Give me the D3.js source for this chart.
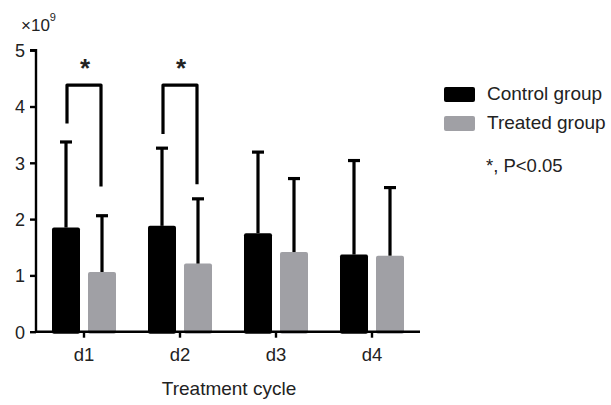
<!DOCTYPE html>
<html><head><meta charset="utf-8">
<script src="https://cdn.jsdelivr.net/npm/d3@7"></script>
<style>body{margin:0;background:#fff}svg{display:block}text{font-family:"Liberation Sans",Arial,sans-serif;fill:#222}</style>
</head><body><svg id="c" width="611" height="405"></svg>
<script>
const categories = ["d1","d2","d3","d4"];
const seriesNames = ["Control group","Treated group"];
const controlMean = [1.85,1.88,1.75,1.37];
const controlErr = [3.37,3.26,3.19,3.04];
const treatedMean = [1.06,1.21,1.415,1.35];
const treatedErr = [2.06,2.36,2.72,2.56];
const yTicks = [0,1,2,3,4,5];
// significance brackets: [category, top, left leg end, right leg end]
const sigCats = ["d1","d2"];
const sigTop = [4.38,4.38];
const sigLeft = [3.70,3.51];
const sigRight = [2.58,2.62];
const colors = ["#000000","#a0a0a5"];

const svg = d3.select("#c");
const x = d3.scaleBand().domain(categories).range([36,420]);
const y = d3.scaleLinear().domain([0,5]).range([331.7,50.2]);
const off = [-18,18], bw = 28;

const series = [
  {mean: controlMean, err: controlErr},
  {mean: treatedMean, err: treatedErr}
];
series.forEach((s,si)=>{
  const g = svg.append("g");
  categories.forEach((c,i)=>{
    const cx = x(c)+x.bandwidth()/2+off[si];
    g.append("rect").attr("x",cx-bw/2).attr("width",bw)
      .attr("y",y(s.mean[i])).attr("height",y(0)-y(s.mean[i])+2)
      .attr("rx",2).attr("fill",colors[si]);
    g.append("line").attr("x1",cx).attr("x2",cx)
      .attr("y1",y(s.mean[i])).attr("y2",y(s.err[i]))
      .attr("stroke","#000").attr("stroke-width",3.2);
    g.append("line").attr("x1",cx-6).attr("x2",cx+6)
      .attr("y1",y(s.err[i])).attr("y2",y(s.err[i]))
      .attr("stroke","#000").attr("stroke-width",3.2);
  });
});

const yAxis = d3.axisLeft(y).tickValues(yTicks).tickSize(6).tickPadding(5).tickFormat(d3.format("d"));
const gy = svg.append("g").attr("transform","translate(36,0)").call(yAxis);
gy.select(".domain").attr("stroke","#000").attr("stroke-width",2.4).attr("d","M-6,"+y(5)+"H0V"+y(0));
gy.selectAll(".tick line").attr("stroke","#000").attr("stroke-width",2.4);
gy.selectAll(".tick text").style("font-size","18px").attr("dy","0.36em").attr("fill","#222");

const xAxis = d3.axisBottom(x).tickSize(6).tickPadding(10);
const gx = svg.append("g").attr("transform","translate(0,"+y(0)+")").call(xAxis);
gx.select(".domain").attr("stroke","#000").attr("stroke-width",2.4).attr("d","M35,0H420");
gx.selectAll(".tick line").attr("stroke","#000").attr("stroke-width",2.4);
gx.selectAll(".tick text").style("font-size","18.5px").attr("fill","#222");

svg.append("text").attr("x",229).attr("y",395).attr("text-anchor","middle")
  .style("font-size","19px").text("Treatment cycle");

const ex = svg.append("text").attr("x",21).attr("y",31).style("font-size","17px");
ex.append("tspan").text("×10");
ex.append("tspan").attr("dy",-10).style("font-size","11px").text("9");

sigCats.forEach((c,i)=>{
  const cx = x(c)+x.bandwidth()/2;
  const xl = cx-17, xr = cx+17;
  svg.append("path").attr("fill","none").attr("stroke","#000").attr("stroke-width",3.2)
    .attr("stroke-linejoin","round")
    .attr("d",`M${xl},${y(sigLeft[i])}V${y(sigTop[i])}H${xr}V${y(sigRight[i])}`);
  svg.append("text").attr("x",cx+1).attr("y",y(sigTop[i])-8).attr("text-anchor","middle")
    .style("font-size","26px").style("font-weight","bold").attr("fill","#000").text("*");
});

seriesNames.forEach((n,i)=>{
  const ly = 87+i*29;
  svg.append("rect").attr("x",444).attr("y",ly).attr("width",31).attr("height",15)
    .attr("rx",2).attr("fill",colors[i]);
  svg.append("text").attr("x",487).attr("y",ly+13).style("font-size","19px").text(n);
});
svg.append("text").attr("x",486).attr("y",172).style("font-size","18.5px").text("*, P<0.05");
</script></body></html>
